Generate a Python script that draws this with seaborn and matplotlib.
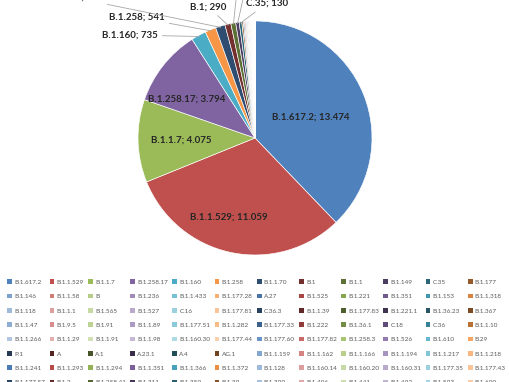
import numpy as np
import matplotlib
matplotlib.use("Agg")
import matplotlib.pyplot as plt
import matplotlib.colors as mcolors
from matplotlib.patches import Patch
import seaborn as sns

# -----------------------------------------------------------
# DATA: variant counts (small ones estimated)
# -----------------------------------------------------------
variants = [
    "B.1.617.2", "B.1.1.529", "B.1.1.7", "B.1.258.17", "B.1.160", "B.1.258",
    "B.1.1.70", "B.1", "B.1.1", "B.1.149", "C.35", "B.1.177",
    "B.1.146", "B.1.1.58", "B", "B.1.236", "B.1.1.433", "B.1.177.28",
    "A.27", "B.1.525", "B.1.221", "B.1.351", "B.1.153", "B.1.1.318",
    "B.1.118", "B.1.1.1", "B.1.565", "B.1.527", "C.16", "B.1.177.81",
    "C.36.3", "B.1.1.39", "B.1.177.83", "B.1.221.1", "B.1.36.23", "B.1.367",
    "B.1.1.47", "B.1.9.5", "B.1.91", "B.1.1.89", "B.1.177.51", "B.1.1.282",
    "B.1.177.33", "B.1.222", "B.1.36.1", "C.18", "C.36", "B.1.1.10",
    "B.1.1.266", "B.1.1.29", "B.1.1.91", "B.1.1.98", "B.1.160.30", "B.1.177.44",
    "B.1.177.60", "B.1.177.82", "B.1.258.3", "B.1.526", "B.1.610", "B.29",
    "P.1", "A", "A.1", "A.23.1", "A.4", "AG.1",
    "B.1.1.159", "B.1.1.162", "B.1.1.166", "B.1.1.194", "B.1.1.217", "B.1.1.218",
    "B.1.1.241", "B.1.1.293", "B.1.1.294", "B.1.1.351", "B.1.1.366", "B.1.1.372",
    "B.1.128", "B.1.160.14", "B.1.160.20", "B.1.160.31", "B.1.177.35", "B.1.177.43",
    "B.1.177.57", "B.1.2", "B.1.258.41", "B.1.311", "B.1.350", "B.1.39",
    "B.1.399", "B.1.406", "B.1.441", "B.1.492", "B.1.593", "B.1.600",
]
counts = [
    13474, 11059, 4075, 3794, 735, 541,
    470, 290, 240, 170, 130, 75,
    62, 54, 46, 40, 34, 29,
    25, 22, 19, 17, 15, 13,
    11, 10, 9, 8, 7, 7,
    6, 6, 6, 6, 6, 6,
    5, 5, 5, 4, 4, 3,
    3, 3, 3, 3, 3, 2,
    2, 2, 2, 2, 2, 2,
    2, 2, 2, 2, 2, 2,
    1, 1, 1, 1, 1, 1,
    1, 1, 1, 1, 1, 1,
    1, 1, 1, 1, 1, 1,
    1, 1, 1, 1, 1, 1,
    1, 1, 1, 1, 1, 1,
    1, 1, 1, 1, 1, 1,
]

# which slices get a "name; value" label
labeled = ["B.1.617.2", "B.1.1.529", "B.1.1.7", "B.1.258.17", "B.1.160",
           "B.1.258", "B.1.1.70", "B.1", "B.1.1", "B.1.149", "C.35"]

# -----------------------------------------------------------
# COLORS: Office 2010 palette, shaded per block of 6
# -----------------------------------------------------------
base = ["#4F81BD", "#C0504D", "#9BBB59", "#8064A2", "#4BACC6", "#F79646"]
shades = [0, -0.4, 0.25, -0.12, 0.45, -0.5, 0.35, -0.25,
          0.55, 0.15, -0.55, 0.3, -0.05, 0.45, -0.45, 0.5]


def shade(hex_color, f):
    rgb = np.array(mcolors.to_rgb(hex_color))
    if f < 0:
        rgb = rgb * (1 + f)
    else:
        rgb = rgb + (1 - rgb) * f
    return tuple(rgb)


colors = [shade(base[i % 6], shades[(i // 6) % len(shades)]) for i in range(len(counts))]

sns.set_style("white")
plt.rcParams['font.family'] = ['Lato', 'DejaVu Sans']

fig = plt.figure(figsize=(5.1, 3.82), dpi=100)
ax = fig.add_axes([0.2706, 0.3325, 0.4588, 0.6126])

wedges, _ = ax.pie(counts, colors=colors, startangle=90, counterclock=False,
                   radius=1.0, wedgeprops=dict(edgecolor="white", linewidth=0.45))
ax.set_xlim(-1, 1)
ax.set_ylim(-1, 1)
ax.set_aspect("equal")
ax.axis("off")

# label text positions (axes data units); inside ones have no leader line
label_pos = {
    "B.1.617.2": (0.48, 0.18, False),
    "B.1.1.529": (-0.22, -0.675, False),
    "B.1.1.7": (-0.63, -0.02, False),
    "B.1.258.17": (-0.58, 0.33, False),
    "B.1.160": (-1.07, 0.88, True),
    "B.1.258": (-1.01, 1.03, True),
    "B.1.1.70": (-1.55, 1.2, True),
    "B.1": (-0.40, 1.12, True),
    "B.1.1": (-0.15, 1.3, True),
    "B.1.149": (-0.05, 1.42, True),
    "C.35": (0.1, 1.15, True),
}

for name in labeled:
    i = variants.index(name)
    w = wedges[i]
    mid = np.deg2rad((w.theta1 + w.theta2) / 2)
    edge = (0.99 * np.cos(mid), 0.99 * np.sin(mid))
    tx, ty, outside = label_pos[name]
    text = f"{name}; {counts[i]:,}".replace(",", ".")
    if outside:
        ax.annotate(text, xy=edge, xytext=(tx, ty), ha="center", va="center",
                    fontsize=7, fontweight="bold", color="#262626",
                    annotation_clip=False,
                    arrowprops=dict(arrowstyle="-", color="#a6a6a6", lw=0.6,
                                    shrinkA=1, shrinkB=0))
    else:
        ax.text(tx, ty, text, ha="center", va="center", fontsize=7,
                fontweight="bold", color="#262626")

# legend filled row by row like the original (matplotlib fills by column)
ncol = 12
nrow = int(np.ceil(len(variants) / ncol))
handles = [Patch(facecolor=c, edgecolor="none") for c in colors]
order = [r * ncol + c for c in range(ncol) for r in range(nrow) if r * ncol + c < len(variants)]
fig.legend([handles[k] for k in order], [variants[k] for k in order],
           ncol=ncol, loc="upper left", bbox_to_anchor=(0.008, 0.2775, 0.99, 0),
           mode="expand", frameon=False, fontsize=4.6, borderpad=0,
           handlelength=0.75, handleheight=0.75, handletextpad=0.35,
           columnspacing=0.4, labelspacing=1.38, labelcolor="#595959")

plt.savefig("out.png", dpi=100)
